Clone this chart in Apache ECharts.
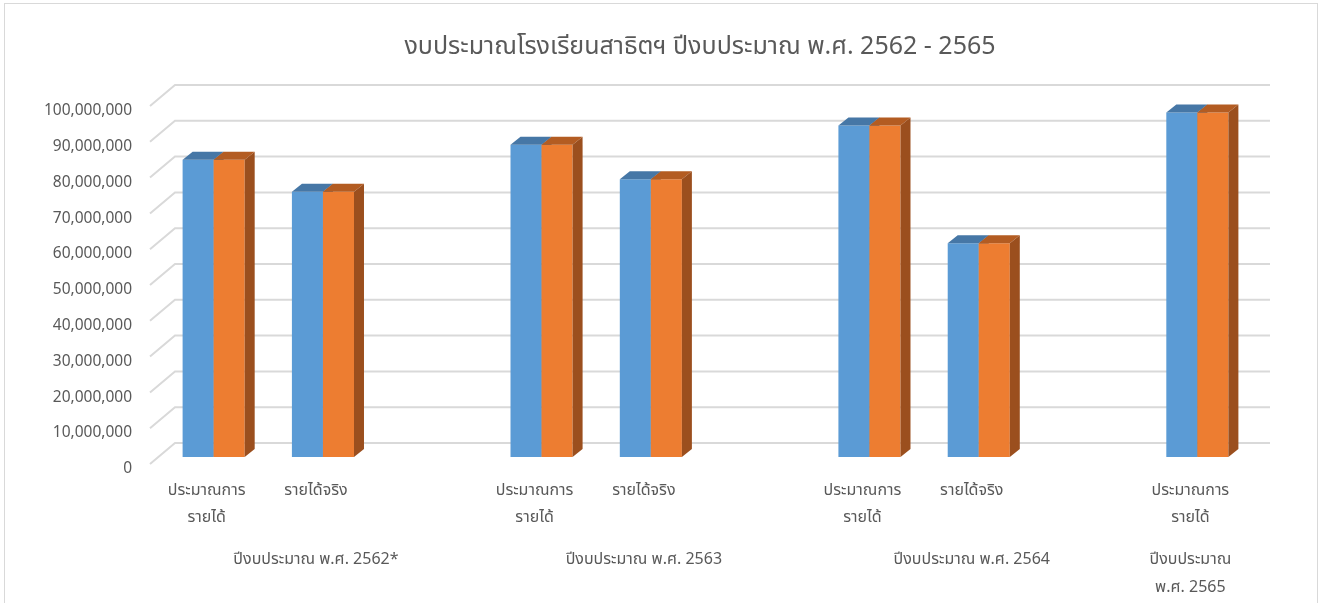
<!DOCTYPE html>
<html><head><meta charset="utf-8">
<script src="https://cdn.jsdelivr.net/npm/echarts@6/dist/echarts.min.js"></script>
<style>
html,body{margin:0;padding:0;background:#fff;}
#frame{position:absolute;left:4px;top:3px;width:1314px;height:640px;border:1px solid #d9d9d9;box-sizing:border-box;}
#chart{position:absolute;left:0;top:0;width:1325px;height:603px;}
</style></head><body>
<div id="frame"></div>
<div id="chart"></div>
<script>
const titleText = 'งบประมาณโรงเรียนสาธิตฯ ปีงบประมาณ พ.ศ. 2562 - 2565';
const subCategories = ['ประมาณการ\nรายได้', 'รายได้จริง', '', 'ประมาณการ\nรายได้', 'รายได้จริง', '', 'ประมาณการ\nรายได้', 'รายได้จริง', '', 'ประมาณการ\nรายได้'];
const groupLabels = ['', 'ปีงบประมาณ พ.ศ. 2562*', '', '', 'ปีงบประมาณ พ.ศ. 2563', '', '', 'ปีงบประมาณ พ.ศ. 2564', '', 'ปีงบประมาณ\nพ.ศ. 2565'];
const seriesBlue = [83000000, 74100000, null, 87200000, 77600000, null, 92600000, 59700000, null, 96200000];
const seriesOrange = [83000000, 74100000, null, 87200000, 77600000, null, 92600000, 59700000, null, 96200000];
const yTicks = [0, 10000000, 20000000, 30000000, 40000000, 50000000, 60000000, 70000000, 80000000, 90000000, 100000000];

const FONT = 'Tahoma, "Leelawadee UI", "Noto Sans Thai", "Noto Sans", sans-serif';
const TXT = '#595959';

function barRenderer(side, frontColor, topColor, sideColor) {
  return function (params, api) {
    const v = api.value(1);
    if (v == null || isNaN(v)) return;
    const base = api.coord([api.value(0), 0]);
    const tp = api.coord([api.value(0), v]);
    const bw = api.size([1, 0])[0] * 0.284;
    const x0 = side < 0 ? base[0] - bw : base[0];
    const x1 = x0 + bw;
    const yb = base[1], yt = tp[1];
    const dx = 10, dy = 8;
    return {
      type: 'group',
      children: [
        { type: 'rect', shape: { x: x0, y: yt, width: bw, height: yb - yt }, style: { fill: frontColor } },
        { type: 'polygon', shape: { points: [[x0, yt], [x1, yt], [x1 + dx, yt - dy], [x0 + dx, yt - dy]] }, style: { fill: topColor } },
        { type: 'polygon', shape: { points: [[x1, yt], [x1 + dx, yt - dy], [x1 + dx, yb - dy], [x1, yb]] }, style: { fill: sideColor } }
      ]
    };
  };
}

const hiddenAxis = { axisLine: { show: false }, axisTick: { show: false }, splitLine: { show: false }, axisLabel: { show: false } };

const chart = echarts.init(document.getElementById('chart'), null, { renderer: 'canvas' });
chart.setOption({
  animation: false,
  backgroundColor: 'transparent',
  textStyle: { fontFamily: FONT },
  title: {
    text: titleText, left: 700, top: 36, textAlign: 'center', padding: 0,
    textStyle: { fontFamily: FONT, fontSize: 25, fontWeight: 'normal', color: TXT }
  },
  grid: [
    { left: 159, right: 73, top: 99, bottom: 146, containLabel: false },
    { left: 152, right: 80, top: 104, bottom: 141, containLabel: false },
    { left: 152, right: 80, top: 112, bottom: 133, containLabel: false }
  ],
  xAxis: [
    Object.assign({ type: 'category', data: subCategories, gridIndex: 0 }, hiddenAxis),
    {
      type: 'category', data: subCategories, gridIndex: 1, position: 'bottom',
      axisLine: { show: false }, axisTick: { show: false }, splitLine: { show: false },
      axisLabel: { interval: 0, color: TXT, fontSize: 16, fontFamily: FONT, margin: 19, lineHeight: 27 }
    },
    {
      type: 'category', data: groupLabels, gridIndex: 1, position: 'bottom',
      axisLine: { show: false }, axisTick: { show: false }, splitLine: { show: false },
      axisLabel: { interval: 0, color: TXT, fontSize: 16, fontFamily: FONT, margin: 88, lineHeight: 28 }
    },
    Object.assign({ type: 'category', data: subCategories, gridIndex: 2 }, hiddenAxis)
  ],
  yAxis: [
    Object.assign({ type: 'value', min: 0, max: 100000000, interval: 10000000, gridIndex: 0 }, hiddenAxis),
    Object.assign({ type: 'value', min: 0, max: 100000000, interval: 10000000, gridIndex: 1 }, hiddenAxis),
    {
      type: 'value', min: 0, max: 100000000, interval: 10000000, gridIndex: 2,
      axisLine: { show: false }, axisTick: { show: false }, splitLine: { show: false },
      axisLabel: {
        color: TXT, fontSize: 15.5, fontFamily: FONT, margin: 20,
        formatter: v => v.toLocaleString('en-US')
      }
    }
  ],
  series: [
    {
      name: 'wall', type: 'custom', z: 1, silent: true, clip: false, xAxisIndex: 0, yAxisIndex: 0,
      data: yTicks.map(v => [0, v]),
      renderItem: function (params, api) {
        const cs = params.coordSys;
        const y = api.coord([0, api.value(1)])[1];
        return {
          type: 'polyline',
          shape: { points: [[cs.x - 9, y + 7], [cs.x + 16, y - 14], [cs.x + cs.width + 18, y - 14]] },
          style: { stroke: '#d9d9d9', lineWidth: 2, fill: null }
        };
      }
    },
    {
      name: 'ประมาณการ', type: 'custom', z: 2, clip: false, xAxisIndex: 0, yAxisIndex: 0,
      data: seriesBlue.map((v, i) => [i, v == null ? '-' : v]),
      renderItem: barRenderer(-1, '#5b9bd5', '#4677a6', '#3f6d99')
    },
    {
      name: 'รายได้', type: 'custom', z: 3, clip: false, xAxisIndex: 0, yAxisIndex: 0,
      data: seriesOrange.map((v, i) => [i, v == null ? '-' : v]),
      renderItem: barRenderer(1, '#ed7d31', '#b35c22', '#9b4f1e')
    }
  ]
});
</script>
</body></html>
